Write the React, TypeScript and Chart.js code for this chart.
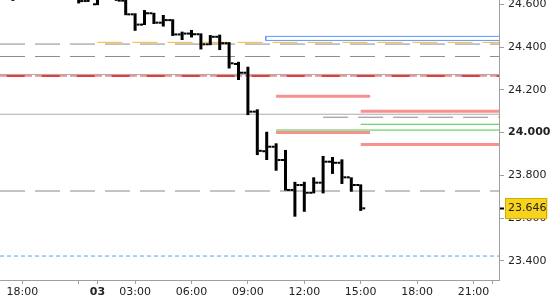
import React, { useEffect, useRef } from "react";
import { Chart, registerables } from "chart.js";

Chart.register(...registerables);

// 30-minute OHLC bars. x = trading hours counted from 18:00 of day 02
// (the 22:00 - 01:00 break is collapsed, so 01:00 of day 03 sits at 4).
const BAR_HOURS = [
  -1, -0.5, 0, 0.5, 1, 1.5, 2, 2.5, 3, 3.5, 4, 4.5, 5, 5.5, 6, 6.5, 7, 7.5, 8,
  8.5, 9, 9.5, 10, 10.5, 11, 11.5, 12, 12.5, 13, 13.5, 14, 14.5, 15, 15.5, 16,
  16.5, 17, 17.5, 18,
];
const OPEN = [
  24.66, 24.65, 24.64, 24.67, 24.68, 24.69, 24.67, 24.66, 24.65, 24.615, 24.6,
  24.63, 24.64, 24.617, 24.553, 24.505, 24.558, 24.514, 24.526, 24.459, 24.463,
  24.46, 24.413, 24.448, 24.418, 24.321, 24.28, 24.098, 23.913, 23.934, 23.872,
  23.732, 23.755, 23.719, 23.766, 23.864, 23.859, 23.791, 23.755,
];
const HIGH = [
  24.69, 24.66, 24.68, 24.7, 24.71, 24.7, 24.69, 24.68, 24.66, 24.64, 24.64,
  24.65, 24.65, 24.63, 24.558, 24.573, 24.56, 24.55, 24.53, 24.472, 24.48,
  24.464, 24.456, 24.458, 24.423, 24.331, 24.308, 24.109, 24.004, 23.95,
  23.919, 23.77, 23.77, 23.791, 23.891, 23.886, 23.875, 23.791, 23.758,
];
const LOW = [
  24.64, 24.616, 24.63, 24.65, 24.66, 24.66, 24.65, 24.64, 24.604, 24.611,
  24.596, 24.625, 24.616, 24.549, 24.476, 24.503, 24.508, 24.496, 24.452,
  24.433, 24.445, 24.389, 24.409, 24.386, 24.3, 24.246, 24.082, 23.895, 23.872,
  23.822, 23.729, 23.607, 23.63, 23.716, 23.716, 23.807, 23.76, 23.724, 23.634,
];
const CLOSE = [
  24.65, 24.64, 24.67, 24.68, 24.69, 24.67, 24.66, 24.65, 24.615, 24.63, 24.63,
  24.64, 24.617, 24.553, 24.505, 24.558, 24.514, 24.526, 24.459, 24.463, 24.46,
  24.413, 24.448, 24.418, 24.324, 24.28, 24.098, 23.915, 23.934, 23.872,
  23.732, 23.755, 23.719, 23.766, 23.864, 23.859, 23.791, 23.755, 23.646,
];

const X_TICKS = [0, 3, 4, 6, 9, 12, 15, 18, 21, 24, 25];
const X_TICK_LABELS = ["18:00", "", "03", "03:00", "06:00", "09:00", "12:00", "15:00", "18:00", "21:00", ""];
const DAY_TICK = 4;
const Y_TICKS = [23.4, 23.6, 23.8, 24.0, 24.2, 24.4, 24.6];
const BOLD_Y_TICK = 24.0;
const LAST_PRICE = 23.646;

const X_MIN = -1.186;
const X_MAX = 25.356;
const Y_MIN = 23.311;
const Y_MAX = 24.62;

// horizontal price levels
const LEVEL_PRICES = [
  24.414, 24.422, 24.356, 24.272, 24.265, 24.265, 24.17, 24.1, 24.086, 24.072,
  24.039, 24.0, 24.012, 23.944, 23.727, 23.423,
];
const LEVEL_STARTS = [
  X_MIN, 4, X_MIN, X_MIN, X_MIN, X_MIN, 13.5, 18, X_MIN, 16, 18, 13.5, 13.5, 18,
  X_MIN, X_MIN,
];
const LEVEL_ENDS = [
  X_MAX, X_MAX, X_MAX, X_MAX, X_MAX, X_MAX, 18.5, X_MAX, X_MAX, X_MAX, X_MAX,
  18.5, X_MAX, X_MAX, X_MAX, X_MAX,
];

const GRAY_DASH = { color: "#8a8a8a", width: 1, dash: [25, 10], offset: 0 };
const GRAY_SOLID = { color: "#ababab", width: 1, dash: [], offset: 0 };
const ORANGE_DASH = { color: "#ffb52a", width: 1, dash: [25, 10], offset: 0 };
const RED_THIN = { color: "#e83a3a", width: 1, dash: [32, 3], offset: 0 };
const RED_THICK = { color: "#e83a3a", width: 2, dash: [18, 17], offset: 28.3 };
const PINK = { color: "#f89090", width: 3, dash: [], offset: 0 };
const GREEN = { color: "#45c845", width: 1, dash: [], offset: 0 };
const BLUE_DASH = { color: "#5b9bff", width: 1, dash: [4, 3], offset: 0 };
const LEVEL_STYLES = [
  GRAY_DASH, ORANGE_DASH, GRAY_DASH, GRAY_SOLID, RED_THIN, RED_THICK, PINK, PINK,
  GRAY_SOLID, GRAY_DASH, GREEN, PINK, GREEN, PINK, GRAY_DASH, BLUE_DASH,
];

// blue zone
const ZONE_TOP = 24.45;
const ZONE_BOTTOM = 24.431;
const ZONE_START = 12.95;

const FONT_FAMILY = "'DejaVu Sans', sans-serif";
const TICK_HALF = 0.0047; // half height of open/close ticks, in price units
const TAG_COLOR = "#f8d31b";

const tagBorder = {
  id: "tagBorder",
  afterDraw(chart: any) {
    const s = chart.scales.y;
    const ctx = chart.ctx;
    const y = s.getPixelForValue(LAST_PRICE);
    ctx.save();
    ctx.font = `11px ${FONT_FAMILY}`;
    const w = ctx.measureText(LAST_PRICE.toFixed(3)).width;
    const left = s.left + 5 + 4 - 3;
    ctx.strokeStyle = "#d2aa00";
    ctx.lineWidth = 1;
    ctx.strokeRect(Math.round(left) + 0.5, Math.round(y - 10.1) + 0.5, Math.round(w + 3), 20);
    ctx.restore();
  },
};

export default function App() {
  const ref = useRef<HTMLCanvasElement | null>(null);

  useEffect(() => {
    if (!ref.current) return;
    const isLast = (ctx: any) => ctx.tick && Math.abs(ctx.tick.value - LAST_PRICE) < 1e-9;

    const barCommon = {
      type: "bar" as const,
      backgroundColor: "#000000",
      borderWidth: 0,
      barThickness: 3,
      inflateAmount: 0,
      order: 0,
      clip: 0,
    };

    const levelSets = LEVEL_PRICES.map((p, i) => ({
      type: "line" as const,
      data: [
        { x: LEVEL_STARTS[i], y: p },
        { x: LEVEL_ENDS[i], y: p },
      ],
      borderColor: LEVEL_STYLES[i].color,
      borderWidth: LEVEL_STYLES[i].width,
      borderDash: LEVEL_STYLES[i].dash,
      borderDashOffset: LEVEL_STYLES[i].offset,
      pointRadius: 0,
      tension: 0,
      fill: false,
      clip: 0,
      order: 100 - i,
    }));

    const zoneSet = {
      type: "line" as const,
      data: [
        { x: X_MAX, y: ZONE_TOP },
        { x: ZONE_START, y: ZONE_TOP },
        { x: ZONE_START, y: ZONE_BOTTOM },
        { x: X_MAX, y: ZONE_BOTTOM },
      ],
      borderColor: "#5b9bff",
      borderWidth: 1,
      pointRadius: 0,
      tension: 0,
      fill: false,
      clip: 0,
      order: 50,
    };

    const chart = new Chart(ref.current, {
      type: "bar",
      data: {
        datasets: [
          {
            ...barCommon,
            label: "open",
            data: BAR_HOURS.map((h, i) => ({ x: h, y: [OPEN[i] - TICK_HALF, OPEN[i] + TICK_HALF] })),
          },
          {
            ...barCommon,
            label: "range",
            data: BAR_HOURS.map((h, i) => ({ x: h, y: [LOW[i], HIGH[i]] })),
          },
          {
            ...barCommon,
            label: "close",
            data: BAR_HOURS.map((h, i) => ({ x: h, y: [CLOSE[i] - TICK_HALF, CLOSE[i] + TICK_HALF] })),
          },
          ...levelSets,
          zoneSet,
        ] as any,
      },
      options: {
        responsive: false,
        animation: false,
        devicePixelRatio: 1,
        layout: { padding: 0 },
        plugins: { legend: { display: false }, tooltip: { enabled: false } },
        scales: {
          x: {
            type: "linear",
            min: X_MIN,
            max: X_MAX,
            offset: false,
            afterBuildTicks: (s: any) => {
              s.ticks = X_TICKS.map((v) => ({ value: v }));
            },
            afterFit: (s: any) => {
              s.height = 20;
              s.paddingLeft = 0;
              s.paddingRight = 0;
            },
            grid: { drawOnChartArea: false, offset: false, tickLength: 4, tickColor: "#a0a0a0" },
            border: { color: "#a0a0a0", width: 1 },
            ticks: {
              autoSkip: false,
              maxRotation: 0,
              minRotation: 0,
              padding: 2,
              color: "#222222",
              font: (ctx: any) => ({
                family: FONT_FAMILY,
                size: 11,
                weight: ctx.tick && ctx.tick.value === DAY_TICK ? "bold" : "normal",
              }),
              callback: (_v: any, i: number) => X_TICK_LABELS[i],
            },
          },
          y: {
            type: "linear",
            position: "right",
            min: Y_MIN,
            max: Y_MAX,
            afterBuildTicks: (s: any) => {
              s.ticks = [...Y_TICKS, LAST_PRICE].map((v) => ({ value: v }));
            },
            afterFit: (s: any) => {
              s.width = 51;
              s.paddingTop = 0;
              s.paddingBottom = 0;
            },
            grid: {
              drawOnChartArea: false,
              tickLength: 5,
              tickColor: (ctx: any) => (isLast(ctx) ? "#000000" : "#a0a0a0"),
              tickWidth: (ctx: any) => (isLast(ctx) ? 2 : 1),
            },
            border: { color: "#a0a0a0", width: 1 },
            ticks: {
              autoSkip: false,
              padding: 4,
              color: "#222222",
              font: (ctx: any) => ({
                family: FONT_FAMILY,
                size: 11,
                weight: ctx.tick && Math.abs(ctx.tick.value - BOLD_Y_TICK) < 1e-9 ? "bold" : "normal",
              }),
              callback: (v: any) => Number(v).toFixed(3),
              showLabelBackdrop: (ctx: any) => isLast(ctx),
              backdropColor: TAG_COLOR,
              backdropPadding: { top: 3.5, bottom: 3.5, left: 3, right: 1 },
            },
          },
        },
      } as any,
      plugins: [tagBorder],
    });

    return () => chart.destroy();
  }, []);

  return (
    <div style={{ position: "fixed", left: 0, top: 0, width: 550, height: 300, background: "#ffffff" }}>
      <canvas ref={ref} width={550} height={300} style={{ display: "block" }} />
    </div>
  );
}
